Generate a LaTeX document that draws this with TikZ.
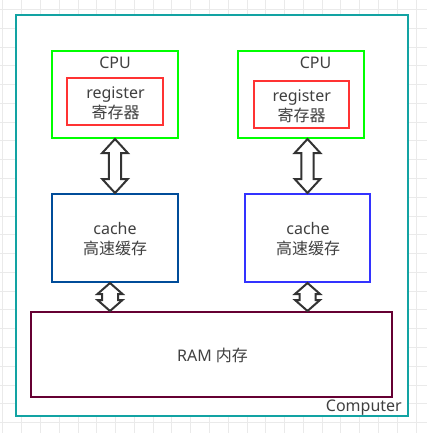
\documentclass[tikz,border=0pt]{standalone}
\usepackage{fontspec}
\setmainfont{Noto Sans}
\newfontfamily\cjk{Noto Sans CJK SC}
\usetikzlibrary{calc}
\definecolor{compteal}{RGB}{18,163,163}
\definecolor{cpugreen}{RGB}{0,255,0}
\definecolor{regred}{RGB}{255,51,51}
\definecolor{cachedark}{RGB}{0,76,153}
\definecolor{cacheblue}{RGB}{51,51,255}
\definecolor{rammaroon}{RGB}{102,0,51}
\definecolor{txtgray}{RGB}{64,64,64}
\definecolor{arrowgray}{RGB}{51,51,51}
\definecolor{gridgray}{RGB}{234,234,234}
\newcommand\dblarrow[5]{%
  \draw[barrow] let \p1=(#1), \p2=(#2) in
   (\x1,\y1) -- (\x1+#3,\y1-#5) -- (\x1+#4,\y1-#5) -- (\x1+#4,\y2+#5) -- (\x1+#3,\y2+#5)
   -- (\x1,\y2) -- (\x1-#3,\y2+#5) -- (\x1-#4,\y2+#5) -- (\x1-#4,\y1-#5) -- (\x1-#3,\y1-#5) -- cycle;}
\begin{document}
\begin{tikzpicture}[x=1pt,y=-1pt,
  box/.style={rectangle, draw, line width=2pt, inner sep=0pt, fill=white},
  txt/.style={text=txtgray, font=\fontsize{16}{20}\selectfont, align=center, inner sep=0pt},
  barrow/.style={draw=arrowgray, fill=white, line width=2pt, line join=miter}]
\useasboundingbox (0,0) rectangle (427,433);
% background grid
\foreach \i in {0,...,22} {
  \draw[gridgray, line width=1pt] (2.9+\i*18.78,0) -- (2.9+\i*18.78,433);
  \draw[gridgray, line width=1pt] (0,9.5+\i*18.78) -- (427,9.5+\i*18.78);
}
\node[box, draw=compteal, minimum width=392pt, minimum height=401pt] (comp) at (212,215.5) {};
\node[box, draw=cpugreen, minimum width=126pt, minimum height=87pt] (cpu1) at (115,94.5) {};
\node[box, draw=cpugreen, minimum width=126pt, minimum height=87pt] (cpu2) at (301,94.5) {};
\node[box, draw=regred, minimum width=96pt, minimum height=47pt] (reg1) at (115,101.5) {};
\node[box, draw=regred, minimum width=95pt, minimum height=47pt] (reg2) at (301.5,104.5) {};
\node[box, draw=cachedark, minimum width=126pt, minimum height=88pt] (cache1) at (115,238) {};
\node[box, draw=cacheblue, minimum width=125pt, minimum height=88pt] (cache2) at (307.5,238) {};
\node[box, draw=rammaroon, minimum width=361pt, minimum height=85pt] (ram) at (211.5,354.5) {};
% labels
\node[txt] (cpu1t) at (115,62.5) {CPU};
\node[txt] (cpu2t) at (315.5,62.5) {CPU};
\node[txt] (reg1t) at (115.5,103) {register\\{\cjk 寄存器}};
\node[txt] (reg2t) at (301.7,106.5) {register\\{\cjk 寄存器}};
\node[txt] (cache1t) at (115,239.5) {cache\\{\cjk 高速缓存}};
\node[txt] (cache2t) at (308,239.5) {cache\\{\cjk 高速缓存}};
\node[txt] (ramt) at (212.5,355.5) {RAM {\cjk 内存}};
\node[txt, anchor=base east] (compt) at (402,411) {Computer};
% arrows
\coordinate (a1t) at (cpu1.south -| cache1.north);
\dblarrow{a1t}{cache1.north}{12.8pt}{6.2pt}{14pt}
\coordinate (a2t) at (cpu2.south -| cache2.north);
\dblarrow{a2t}{cache2.north}{12.8pt}{6.2pt}{14pt}
\coordinate (a3t) at ($(cache1.south)+(-5,0)$);
\coordinate (a3b) at ($(ram.north)$);
\dblarrow{a3t}{a3b}{12.5pt}{8pt}{11pt}
\coordinate (a4t) at (cache2.south);
\dblarrow{a4t}{ram.north}{12.5pt}{8pt}{11pt}
\end{tikzpicture}
\end{document}
